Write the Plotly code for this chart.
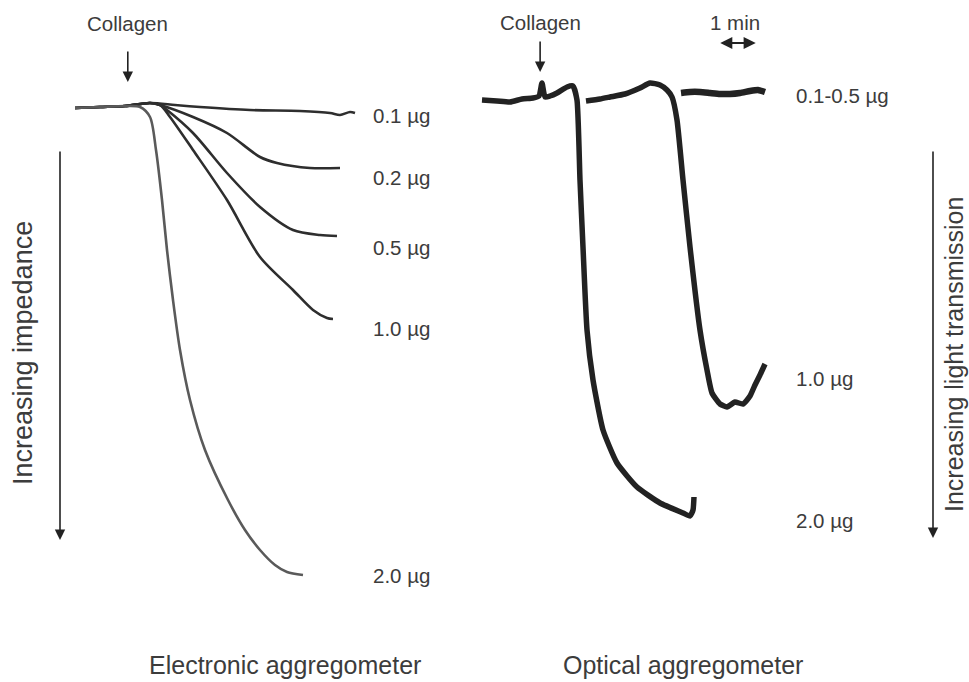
import plotly.graph_objects as go

# ---------------- Electronic aggregometer (impedance, ohm vs time, min) ----------------
e_labels = ["0.1 µg", "0.2 µg", "0.5 µg", "1.0 µg", "2.0 µg"]
base_t = [0, 0.625, 1.25]
base_v = [0.15, 0.1, 0.05]

e01_t = base_t + [1.875, 2.5, 3.125, 4.375, 5.625, 6.375, 6.625, 6.875, 7.0]
e01_v = base_v + [-0.1, 0.0, 0.1, 0.25, 0.3, 0.4, 0.5, 0.35, 0.4]

e02_t = base_t + [1.875, 2.125, 2.95, 3.8, 4.625, 5.05, 5.875, 6.625]
e02_v = base_v + [-0.1, 0.0, 0.6, 1.4, 2.6, 2.9, 3.15, 3.15]

e05_t = base_t + [1.875, 2.125, 2.3, 2.95, 3.8, 4.625, 5.45, 6.125, 6.55]
e05_v = base_v + [-0.1, 0.0, 0.25, 1.4, 3.4, 5.1, 6.25, 6.5, 6.55]

e10_t = base_t + [1.875, 2.125, 2.375, 2.95, 3.8, 4.625, 5.45, 5.95, 6.3, 6.45]
e10_v = base_v + [-0.1, 0.0, 0.6, 2.25, 4.75, 7.6, 9.25, 10.25, 10.65, 10.7]

e20_t = base_t + [1.625, 1.875, 2.025, 2.175, 2.3, 2.45, 2.625, 2.875, 3.25, 3.825,
                  4.25, 4.625, 5.0, 5.3, 5.7]
e20_v = base_v + [0.1, 0.6, 2.25, 4.75, 7.25, 9.75, 12.25, 14.75, 17.25, 19.75,
                  21.25, 22.25, 23.0, 23.35, 23.5]

e_label_v = [0.5, 3.6, 7.1, 11.15, 23.5]
e_collagen_t = 1.32

# ---------------- Optical aggregometer (light transmission %, vs time, min) ----------------
o_labels = ["0.1-0.5 µg", "1.0 µg", "2.0 µg"]

o05_t = [5.307, 5.547, 5.813, 6.08, 6.347, 6.613, 6.88, 7.147, 7.36, 7.547]
o05_v = [-1.4, -1.6, -1.6, -1.4, -1.2, -1.2, -1.4, -1.8, -2.0, -1.6]

o10_t = [2.773, 3.147, 3.413, 3.813, 4.213, 4.48, 4.747, 4.933, 5.067, 5.2, 5.36, 5.547,
         5.813, 6.0, 6.133, 6.347, 6.533, 6.747, 6.96, 7.147, 7.28, 7.413, 7.547]
o10_v = [0.2, -0.2, -0.6, -1.2, -2.4, -3.4, -3.0, -2.0, -0.6, 4.0, 16.0, 29.4,
         46.0, 54.0, 58.6, 60.8, 61.4, 60.4, 60.8, 59.2, 57.0, 55.0, 52.8]

o20_t = [0, 0.4, 0.747, 1.067, 1.36, 1.52, 1.6, 1.68, 1.813, 2.0, 2.267, 2.427, 2.533,
         2.613, 2.693, 2.8, 2.96, 3.227, 3.6, 4.133, 4.747, 5.36, 5.547, 5.627, 5.653]
o20_v = [0, 0.2, 0.4, -0.2, -0.4, -0.8, -3.4, -0.6, -0.8, -1.4, -2.6, -2.8, 0,
         16.0, 29.4, 46.0, 56.0, 66.0, 72.6, 77.4, 80.6, 82.6, 83.2, 82.0, 79.4]

o_label_v = [-1.0, 55.6, 84.0]
o_collagen_t = 1.55

FONT = "Liberation Sans, Arial, sans-serif"
TXT = "#3c3c3c"

fig = go.Figure()

e_series = [(e01_t, e01_v, "#2e2e2e"), (e02_t, e02_v, "#2e2e2e"), (e05_t, e05_v, "#2e2e2e"),
            (e10_t, e10_v, "#2e2e2e"), (e20_t, e20_v, "#5a5a5a")]
for (t, v, c), name in zip(e_series, e_labels):
    fig.add_trace(go.Scatter(x=t, y=v, mode="lines", name=name, xaxis="x", yaxis="y",
                             line=dict(color=c, width=2.6, shape="spline", smoothing=0.8),
                             showlegend=False, hoverinfo="skip"))

o_series = [(o05_t, o05_v, 6.5), (o10_t, o10_v, 5.5), (o20_t, o20_v, 5.5)]
for (t, v, w), name in zip(o_series, o_labels):
    fig.add_trace(go.Scatter(x=t, y=v, mode="lines", name=name, xaxis="x2", yaxis="y2",
                             line=dict(color="#222222", width=w, shape="spline", smoothing=0.5),
                             showlegend=False, hoverinfo="skip"))

ann = []
LAB = dict(size=20.5, color=TXT, family=FONT)
# curve labels
e_end_x = 7.4
for lab, v in zip(e_labels, e_label_v):
    ann.append(dict(x=e_end_x, y=v, xref="x", yref="y", text=lab, showarrow=False,
                    xanchor="left", yanchor="middle", font=LAB))
o_end_x = 8.33
for lab, v in zip(o_labels, o_label_v):
    ann.append(dict(x=o_end_x, y=v, xref="x2", yref="y2", text=lab, showarrow=False,
                    xanchor="left", yanchor="middle", font=LAB))

# collagen labels and arrows
ann.append(dict(x=e_collagen_t, y=-4.1, xref="x", yref="y", text="Collagen", showarrow=False,
                xanchor="center", yanchor="middle", font=LAB))
ann.append(dict(x=e_collagen_t, y=-1.15, xref="x", yref="y", text="", showarrow=True,
                ax=0, ay=-32, arrowhead=2, arrowsize=1.3, arrowwidth=1.6, arrowcolor="#222"))
ann.append(dict(x=o_collagen_t, y=-15.6, xref="x2", yref="y2", text="Collagen", showarrow=False,
                xanchor="center", yanchor="middle", font=LAB))
ann.append(dict(x=o_collagen_t, y=-5.6, xref="x2", yref="y2", text="", showarrow=True,
                ax=0, ay=-32, arrowhead=2, arrowsize=1.3, arrowwidth=1.6, arrowcolor="#222"))

# 1 min scale bar
ann.append(dict(x=6.75, y=-15.6, xref="x2", yref="y2", text="1 min", showarrow=False,
                xanchor="center", yanchor="middle", font=LAB))
ann.append(dict(x=7.3, y=-11.4, xref="x2", yref="y2", text="", showarrow=True,
                ax=-37, ay=0, arrowhead=2, arrowside="end+start", arrowsize=1.1,
                arrowwidth=2.2, arrowcolor="#222"))

# vertical arrows and labels
ann.append(dict(x=60 / 969, y=1 - 540 / 682, xref="paper", yref="paper", text="", showarrow=True,
                ax=0, ay=-390, arrowhead=2, arrowsize=1.3, arrowwidth=1.6, arrowcolor="#222"))
ann.append(dict(x=23 / 969, y=1 - 353 / 682, xref="paper", yref="paper", text="Increasing impedance",
                showarrow=False, textangle=-90, xanchor="center", yanchor="middle",
                font=dict(size=27, color=TXT, family=FONT)))
ann.append(dict(x=933 / 969, y=1 - 538 / 682, xref="paper", yref="paper", text="", showarrow=True,
                ax=0, ay=-388, arrowhead=2, arrowsize=1.3, arrowwidth=1.6, arrowcolor="#222"))
ann.append(dict(x=954 / 969, y=1 - 355 / 682, xref="paper", yref="paper",
                text="Increasing light transmission",
                showarrow=False, textangle=-90, xanchor="center", yanchor="middle",
                font=dict(size=25, color=TXT, family=FONT)))

# panel titles
ann.append(dict(x=285 / 969, y=1 - 665 / 682, xref="paper", yref="paper", text="Electronic aggregometer",
                showarrow=False, xanchor="center", yanchor="middle",
                font=dict(size=25, color=TXT, family=FONT)))
ann.append(dict(x=683 / 969, y=1 - 665 / 682, xref="paper", yref="paper", text="Optical aggregometer",
                showarrow=False, xanchor="center", yanchor="middle",
                font=dict(size=25, color=TXT, family=FONT)))

hidden = dict(visible=False, showgrid=False, zeroline=False, fixedrange=True)
fig.update_layout(
    width=969, height=682,
    margin=dict(l=0, r=0, t=0, b=0, pad=0),
    paper_bgcolor="white", plot_bgcolor="white",
    xaxis=dict(domain=[0, 0.46], range=[-1.875, 9.2685], **hidden),
    yaxis=dict(domain=[0, 1], range=[28.85, -5.25], **hidden),
    xaxis2=dict(domain=[0.46, 1], range=[-0.967, 12.987], anchor="y2", **hidden),
    yaxis2=dict(domain=[0, 1], range=[116.4, -20], anchor="x2", **hidden),
    annotations=ann,
    showlegend=False,
)

fig.write_html("out.html", config={"displayModeBar": False},
               post_script="document.body.style.margin='0';document.body.style.overflow='hidden';")
